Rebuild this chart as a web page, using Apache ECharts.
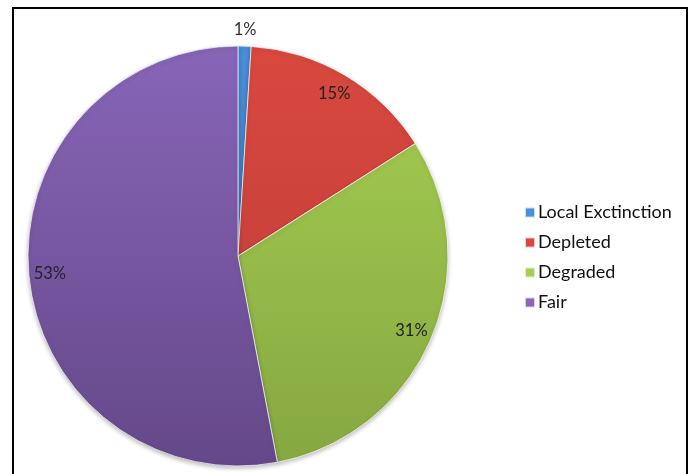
<!DOCTYPE html>
<html>
<head>
<meta charset="utf-8">
<script src="https://cdn.jsdelivr.net/npm/echarts@6/dist/echarts.min.js"></script>
<style>
  html, body { margin: 0; padding: 0; background: #fff; }
  #chart { width: 691px; height: 474px; }
</style>
</head>
<body>
<div id="chart"></div>
<script>
// Population status shares (percent)
const categories = ['Local Exctinction', 'Depleted', 'Degraded', 'Fair'];
const shares = [1, 15, 31, 53];

// Top and bottom tones of each slice's vertical shading
const topColors = ['#4a8fdc', '#d9483f', '#a6cf52', '#8865b8'];
const bottomColors = ['#3671b5', '#b93c38', '#86a741', '#654889'];

const CX = 238, CY = 256, R = 210;

function shade(i) {
  return {
    type: 'linear', x: 0, y: CY - R, x2: 0, y2: CY + R, global: true,
    colorStops: [
      { offset: 0, color: topColors[i] },
      { offset: 1, color: bottomColors[i] }
    ]
  };
}

const sliceData = categories.map((name, i) => ({
  name, value: shares[i], itemStyle: { color: shade(i) }
}));

const labelFont = { fontFamily: 'Lato, "Open Sans", sans-serif', fontSize: 16.5, color: '#222' };

// Inner labels sit close to the rim; the tiny first slice is labelled just outside it
const rimLabels = categories.map((name, i) => ({
  name, value: shares[i],
  label: { show: i !== 0 }
}));
const outerLabels = categories.map((name, i) => ({
  name, value: shares[i],
  label: { show: i === 0 }
}));

const chart = echarts.init(document.getElementById('chart'), null, { renderer: 'canvas' });
chart.setOption({
  animation: false,
  backgroundColor: '#fff',
  graphic: [{
    type: 'rect',
    shape: { x: 13, y: 8, width: 674, height: 480 },
    style: { fill: 'none', stroke: '#000', lineWidth: 2 },
    silent: true
  }],
  legend: {
    orient: 'vertical',
    left: 519,
    top: 197,
    itemWidth: 10,
    itemHeight: 10,
    itemGap: 9,
    icon: 'rect',
    data: categories,
    textStyle: { fontFamily: 'Lato, "Open Sans", sans-serif', fontSize: 18, color: '#111', lineHeight: 21, padding: [0, 0, 0, -2] },
    selectedMode: false
  },
  series: [
    {
      type: 'pie',
      center: [CX, CY],
      radius: [0, R],
      startAngle: 90,
      clockwise: true,
      data: sliceData,
      label: { show: false },
      labelLine: { show: false },
      itemStyle: {
        borderColor: 'rgba(255,255,255,0.7)',
        borderWidth: 1,
        shadowBlur: 4,
        shadowOffsetY: 2,
        shadowColor: 'rgba(0,0,0,0.25)'
      },
      silent: true
    },
    {
      type: 'pie',
      center: [CX, CY],
      radius: [162, 210],
      startAngle: 90,
      clockwise: true,
      data: rimLabels,
      itemStyle: { color: 'rgba(0,0,0,0)' },
      label: Object.assign({ position: 'inside', formatter: '{c}%' }, labelFont),
      labelLine: { show: false },
      legendHoverLink: false,
      silent: true
    },
    {
      type: 'pie',
      center: [CX, CY],
      radius: [213, 233],
      startAngle: 90,
      clockwise: true,
      data: outerLabels,
      itemStyle: { color: 'rgba(0,0,0,0)' },
      label: Object.assign({ position: 'inside', formatter: '{c}%' }, labelFont, { color: '#333' }),
      labelLine: { show: false },
      legendHoverLink: false,
      silent: true
    }
  ]
});
</script>
</body>
</html>
